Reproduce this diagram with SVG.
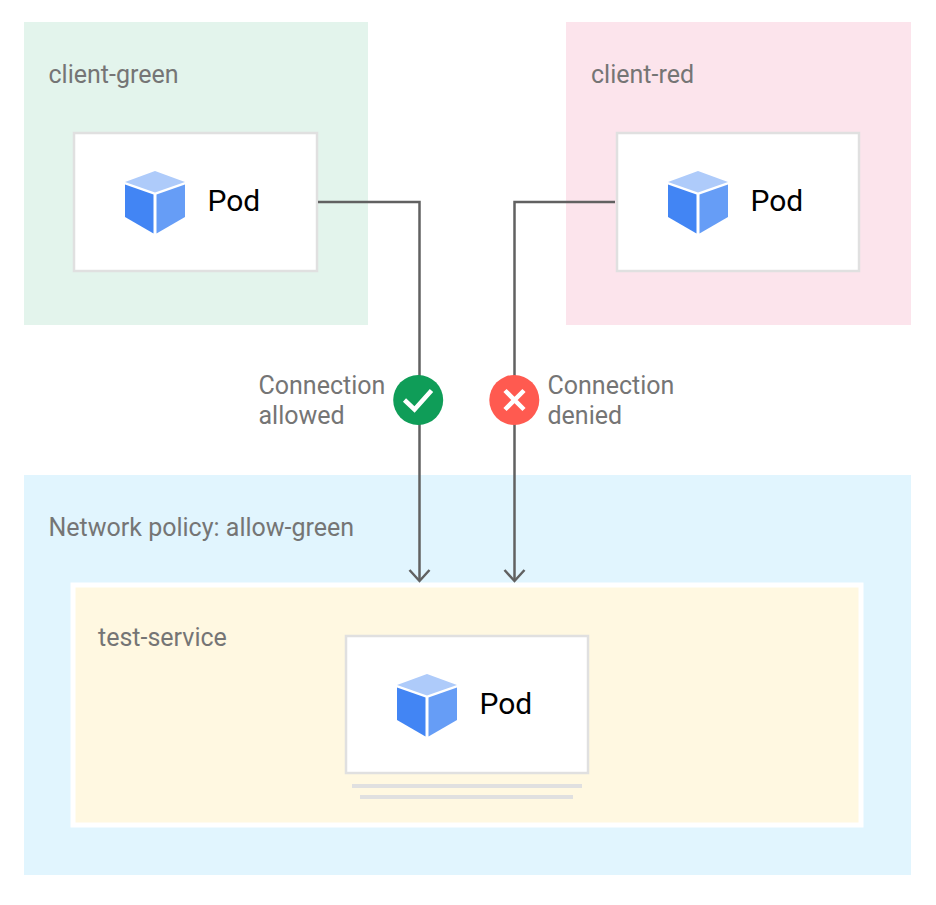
<svg xmlns="http://www.w3.org/2000/svg" xmlns:xlink="http://www.w3.org/1999/xlink" width="936" height="905" viewBox="0 0 936 905">
<style>
text{font-family:Roboto,"Liberation Sans",sans-serif}
.l{font-size:25px;fill:#757575}
.p{font-size:30px;fill:#000}
.box{fill:#fff;stroke:#e0e0e0;stroke-width:2.500}
.c{fill:none;stroke:#616161;stroke-width:2.500}
</style>
<defs>
<marker id="arrow" markerUnits="userSpaceOnUse" markerWidth="16" markerHeight="26" refX="14" refY="13" orient="auto" viewBox="0 0 16 26"><path d="M3 3 L14 13 L3 23" fill="none" stroke="#616161" stroke-width="2.500"/></marker>
<g id="cube">
<polygon points="0,-31.500 30,-20.500 0,-10 -30,-20.500" fill="#aecbfa"/>
<polygon points="-30,-18 -1.500,-8 -1.500,31 -30,14.500" fill="#4285f4"/>
<polygon points="30,-18 1.500,-8 1.500,31 30,14.500" fill="#669df6"/>
</g>
</defs>
<rect width="936" height="905" fill="#fff"/>
<g id="client-green"><rect x="24" y="22" width="344" height="303" fill="#e3f4ec"/><text class="l" x="48.500" y="82.500">client-green</text></g>
<g id="client-red"><rect x="566" y="22" width="345" height="303" fill="#fce4ec"/><text class="l" x="591" y="82.500">client-red</text></g>
<g id="network-policy"><rect x="24" y="475" width="887" height="400" fill="#e1f5fe"/><text class="l" x="48.500" y="535.500">Network policy: allow-green</text></g>
<g id="test-service"><rect x="73" y="585" width="788" height="240" fill="#fff8e1" stroke="#fff" stroke-width="5"/><text class="l" x="98" y="645.500">test-service</text></g>
<g id="pod-green"><rect class="box" x="74" y="133" width="243" height="138"/><use xlink:href="#cube" href="#cube" x="155" y="202.500"/><text class="p" x="207.500" y="211">Pod</text></g>
<g id="pod-red"><rect class="box" x="617" y="133" width="242" height="138"/><use xlink:href="#cube" href="#cube" x="698" y="202.500"/><text class="p" x="750.500" y="211">Pod</text></g>
<g id="pod-service"><rect class="box" x="346" y="636" width="242" height="137"/><use xlink:href="#cube" href="#cube" x="427" y="705.500"/><text class="p" x="479.500" y="714">Pod</text><rect x="352" y="784" width="230" height="4" fill="#e0e0e0"/><rect x="360" y="795" width="213" height="4" fill="#e0e0e0"/></g>
<g id="connectors">
<path class="c" d="M318 202H419.500V581" marker-end="url(#arrow)"/>
<path class="c" d="M615 202H514.500V581" marker-end="url(#arrow)"/>
</g>
<g id="allowed"><circle cx="418.200" cy="400" r="25" fill="#0f9d58"/><path d="M404.500 400L414.500 409.500L431.500 390.500" fill="none" stroke="#fff" stroke-width="4.500"/><text class="l" x="258.500" y="393.500">Connection</text><text class="l" x="258.500" y="423.500">allowed</text></g>
<g id="denied"><circle cx="514.300" cy="400" r="25" fill="#ff5a50"/><path d="M505 390.500L524 409.500M524 390.500L505 409.500" fill="none" stroke="#fff" stroke-width="4.500"/><text class="l" x="547.500" y="393.500">Connection</text><text class="l" x="547.500" y="423.500">denied</text></g>
</svg>
